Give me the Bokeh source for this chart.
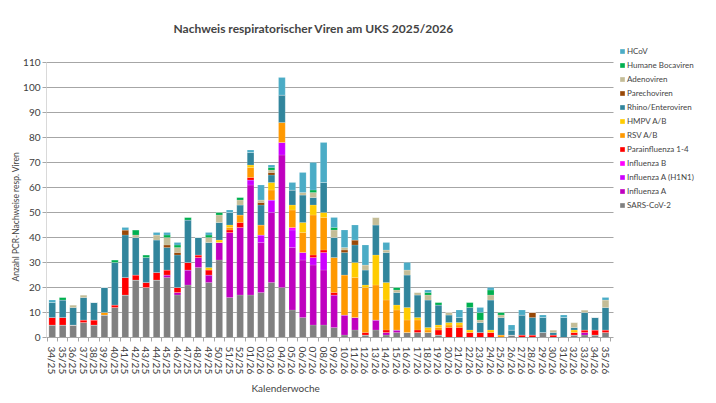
import math
from bokeh.plotting import figure
from bokeh.models import FixedTicker, Legend, LegendItem, Range1d, Title
from bokeh.embed import file_html
from bokeh.resources import INLINE

weeks = ["34/25", "35/25", "36/25", "37/25", "38/25", "39/25", "40/25", "41/25", "42/25", "43/25",
         "44/25", "45/25", "46/25", "47/25", "48/25", "49/25", "50/25", "51/25", "52/25",
         "01/26", "02/26", "03/26", "04/26", "05/26", "06/26", "07/26", "08/26", "09/26", "10/26",
         "11/26", "12/26", "13/26", "14/26", "15/26", "16/26", "17/26", "18/26", "19/26", "20/26",
         "21/26", "22/26", "23/26", "24/26", "25/26", "26/26", "27/26", "28/26", "29/26", "30/26",
         "31/26", "32/26", "33/26", "34/26", "35/26"]

# counts per week, bottom of the stack first
sars = [5, 5, 5, 6, 5, 9, 12, 17, 23, 20, 23, 24, 17, 21, 28, 22, 31, 16, 17,
        17, 18, 22, 20, 11, 8, 5, 5, 4, 1, 3, 1, 3, 1, 2, 2, 2, 2, 1, 0,
        0, 0, 0, 0, 0, 1, 0, 0, 2, 0, 0, 1, 1, 1, 2]
infl_a = [0, 0, 0, 0, 0, 0, 0, 0, 0, 0, 0, 1, 1, 6, 4, 3, 7, 26, 27,
          44, 20, 28, 53, 25, 23, 24, 22, 13, 8, 5, 0, 4, 1, 1, 0, 0, 0, 0, 0,
          0, 0, 0, 0, 0, 0, 0, 0, 0, 0, 0, 0, 1, 0, 0]
infl_h1n1 = [0, 0, 0, 0, 0, 0, 0, 0, 0, 0, 0, 0, 0, 0, 0, 0, 0, 0, 0,
             2, 3, 5, 5, 7, 3, 3, 7, 0, 0, 0, 0, 0, 0, 0, 0, 0, 0, 0, 0,
             0, 0, 0, 0, 0, 0, 0, 0, 0, 0, 0, 0, 0, 0, 0]
infl_b = [0, 0, 0, 0, 0, 0, 0, 0, 0, 0, 0, 0, 0, 0, 0, 0, 0, 0, 0,
          0, 0, 0, 0, 1, 0, 0, 0, 0, 0, 0, 0, 0, 0, 0, 0, 0, 0, 0, 0,
          0, 0, 0, 0, 0, 0, 0, 0, 0, 0, 0, 0, 0, 0, 0]
parainfl = [3, 3, 0, 1, 2, 0, 1, 7, 2, 2, 3, 2, 2, 3, 1, 2, 0, 1, 2,
            1, 0, 0, 0, 0, 0, 1, 1, 1, 0, 0, 1, 0, 1, 0, 0, 1, 0, 2, 4,
            4, 2, 2, 2, 0, 0, 1, 1, 0, 1, 0, 1, 1, 2, 1]
rsv = [0, 0, 0, 0, 0, 1, 0, 0, 0, 0, 0, 0, 0, 0, 0, 0, 0, 1, 3,
       4, 4, 4, 8, 7, 8, 16, 13, 14, 16, 16, 18, 14, 12, 8, 5, 4, 1, 1, 1,
       1, 0, 0, 0, 1, 0, 0, 0, 0, 0, 0, 0, 0, 0, 0]
hmpv = [0, 0, 0, 0, 0, 0, 0, 0, 0, 0, 0, 0, 0, 0, 0, 1, 1, 1, 0,
        1, 0, 3, 0, 2, 4, 4, 2, 0, 0, 6, 1, 12, 7, 2, 5, 1, 1, 1, 1,
        1, 1, 0, 1, 0, 0, 0, 0, 0, 0, 0, 1, 0, 0, 0]
rhino = [6, 7, 7, 9, 7, 10, 17, 17, 15, 10, 13, 9, 13, 17, 7, 10, 7, 5, 4,
         5, 8, 3, 11, 6, 11, 3, 12, 8, 9, 7, 6, 12, 12, 5, 13, 9, 11, 8, 3,
         2, 9, 4, 12, 7, 2, 8, 7, 6, 1, 8, 1, 7, 5, 9]
parecho = [0, 0, 0, 0, 0, 0, 0, 2, 0, 0, 0, 1, 1, 0, 0, 0, 0, 0, 0,
           0, 1, 1, 0, 0, 0, 0, 0, 0, 1, 2, 0, 0, 0, 0, 0, 0, 0, 0, 0,
           0, 0, 0, 0, 0, 0, 0, 2, 0, 0, 0, 0, 0, 0, 0]
adeno = [0, 0, 1, 1, 0, 0, 0, 0, 1, 0, 2, 3, 2, 0, 0, 2, 3, 0, 2,
         0, 1, 1, 0, 0, 1, 2, 0, 3, 1, 0, 2, 3, 1, 1, 2, 1, 2, 0, 1,
         0, 0, 1, 2, 1, 0, 0, 0, 0, 1, 0, 2, 1, 0, 3]
boca = [0, 1, 0, 0, 0, 0, 1, 0, 2, 1, 0, 1, 1, 1, 0, 1, 1, 0, 1,
        0, 0, 1, 0, 0, 0, 1, 0, 1, 0, 0, 0, 0, 0, 1, 0, 0, 1, 1, 0,
        0, 2, 3, 2, 1, 0, 0, 0, 0, 0, 0, 0, 0, 0, 0]
hcov = [1, 0, 0, 0, 0, 0, 0, 1, 0, 0, 1, 1, 1, 0, 0, 1, 0, 1, 0,
        1, 6, 1, 7, 3, 8, 11, 16, 4, 7, 6, 8, 0, 3, 0, 3, 0, 1, 0, 0,
        3, 0, 2, 1, 0, 2, 2, 0, 1, 0, 1, 0, 0, 0, 1]

series = ["SARS-CoV-2", "Influenza A", "Influenza A (H1N1)", "Influenza B", "Parainfluenza 1-4",
          "RSV A/B", "HMPV A/B", "Rhino/Enteroviren", "Parechoviren", "Adenoviren",
          "Humane Bocaviren", "HCoV"]
colors = ["#808080", "#BF00BF", "#CC00FF", "#FF00FF", "#FF0000", "#FF9900",
          "#FFCC00", "#31859C", "#984807", "#C4BD97", "#00B050", "#4BACC6"]
values = [sars, infl_a, infl_h1n1, infl_b, parainfl, rsv, hmpv, rhino, parecho, adeno, boca, hcov]
y_ticks = list(range(0, 111, 10))

FONT = "Lato"

data = {"x": list(range(len(weeks)))}
for name, vals in zip(series, values):
    data[name] = vals

# the frame is larger than the bar area (right and top) so the legend fits inside it
x_lo, x_hi = -0.55, len(weeks) - 0.25
p = figure(width=700, height=395, output_backend="svg", toolbar_location=None,
           x_range=Range1d(x_lo, 62.1), y_range=Range1d(0, 117.2),
           min_border_left=40, min_border_right=0, min_border_top=44, min_border_bottom=2)

if "cross_bounds" in p.ygrid[0].properties():
    p.ygrid.cross_bounds = (x_lo, x_hi)
    p.ygrid.grid_line_color = "#A6A6A6"
else:
    p.ygrid.grid_line_color = None
    p.segment(x0=[x_lo] * len(y_ticks), x1=[x_hi] * len(y_ticks), y0=y_ticks, y1=y_ticks,
              line_color="#A6A6A6", line_width=1)

renderers = p.vbar_stack(series, x="x", width=0.64, source=data, color=colors,
                         line_color="white", line_width=0.5, line_alpha=0.3)

legend = Legend(items=[LegendItem(label=s, renderers=[r]) for s, r in zip(series[::-1], renderers[::-1])],
                location=(573, 126), label_text_font=FONT, label_text_font_size="8px",
                glyph_width=6, glyph_height=6, spacing=2, label_height=12, padding=1, margin=0,
                border_line_color=None, background_fill_alpha=0, label_standoff=2)
p.add_layout(legend)

title = Title(text="Nachweis respiratorischer Viren am UKS 2025/2026", text_font=FONT,
              text_font_size="12px", text_font_style="bold", align="left", offset=127, standoff=18)
p.add_layout(title, "above")

xlabel = Title(text="Kalenderwoche", text_font=FONT, text_font_size="10px", text_font_style="normal",
               align="left", offset=205, standoff=4)
p.add_layout(xlabel, "below")

ylabel = Title(text="Anzahl PCR-Nachweise resp. Viren", text_font=FONT, text_font_size="8.5px",
               text_font_style="normal", align="left", offset=56, standoff=0)
p.add_layout(ylabel, "left")
# narrow empty strip on the far left pushes the y label towards the axis
p.add_layout(Title(text="\u00a0", text_font_size="5px", standoff=0), "left")

p.xaxis.ticker = FixedTicker(ticks=list(range(len(weeks))),
                             minor_ticks=[i - 0.5 for i in range(len(weeks) + 1)])
p.xaxis.major_label_overrides = {i: w for i, w in enumerate(weeks)}
p.xaxis.major_label_orientation = -math.pi / 2
p.xaxis.bounds = (x_lo, x_hi)
p.xaxis.major_tick_out = 0
p.xaxis.major_tick_in = 0
p.xaxis.minor_tick_out = 4
p.xaxis.minor_tick_in = 0
p.xaxis.axis_line_color = "#A6A6A6"
p.xaxis.minor_tick_line_color = "#A6A6A6"

p.yaxis.ticker = FixedTicker(ticks=y_ticks)
p.yaxis.bounds = (0, 110)
p.yaxis.axis_line_color = "#D9D9D9"
p.yaxis.major_tick_line_color = "#A6A6A6"
p.yaxis.major_tick_out = 4
p.yaxis.major_tick_in = 0
p.yaxis.major_label_standoff = 2
p.yaxis.minor_tick_line_color = None

for ax in (p.xaxis, p.yaxis):
    ax.major_label_text_font = FONT
    ax.major_label_text_font_size = "10px"
    ax.major_label_text_color = "#404040"

p.xgrid.grid_line_color = None
p.outline_line_color = None

open("out.html", "w").write(file_html(p, INLINE))
